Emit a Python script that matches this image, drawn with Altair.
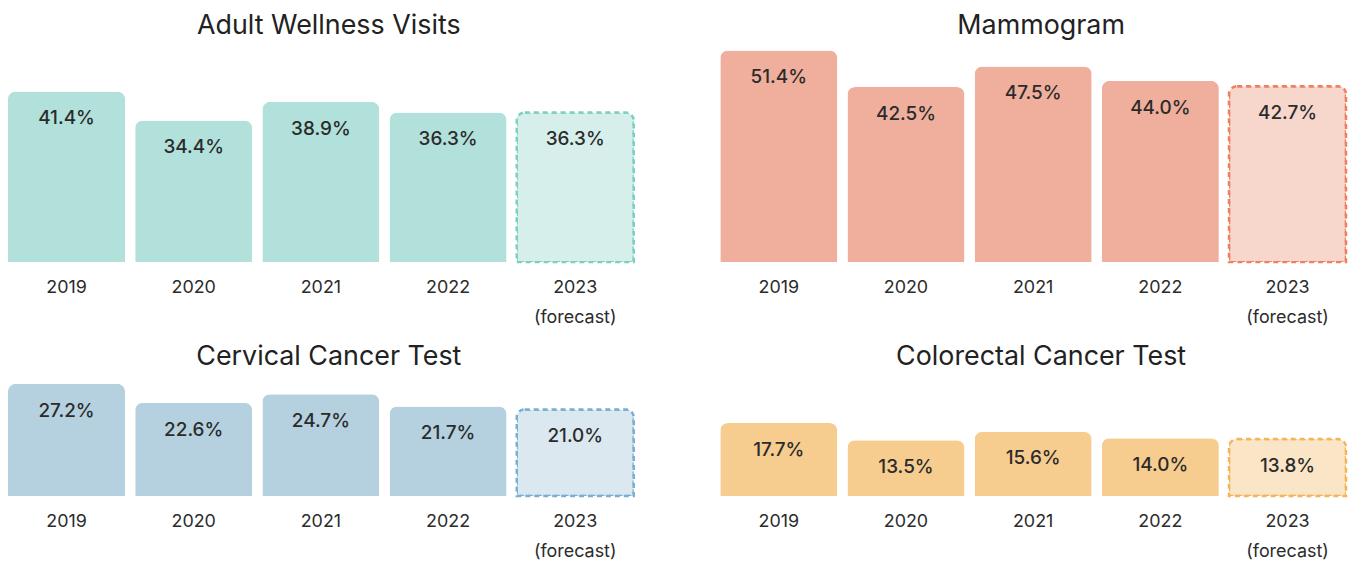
import altair as alt
import pandas as pd

years = ["2019", "2020", "2021", "2022", "2023 (forecast)"]

wellness = [41.4, 34.4, 38.9, 36.3, 36.3]
mammogram = [51.4, 42.5, 47.5, 44.0, 42.7]
cervical = [27.2, 22.6, 24.7, 21.7, 21.0]
colorectal = [17.7, 13.5, 15.6, 14.0, 13.8]

titles = ["Adult Wellness Visits", "Mammogram", "Cervical Cancer Test", "Colorectal Cancer Test"]
fills = ["#b1e1da", "#f0af9d", "#b5d1e0", "#f6cd8f"]
fc_fills = ["#d7efeb", "#f7d6cc", "#dbe8f0", "#fae5c6"]
fc_strokes = ["#7ccfc1", "#ee7f5f", "#7aaed2", "#f4b557"]

FONT = "Inter"
W = 629
K = 4.14  # px per percentage point


def panel(title, values, fill, fc_fill, fc_stroke, height, dom_max, title_offset):
    df = pd.DataFrame({
        "year": years,
        "value": values,
        "forecast": [False, False, False, False, True],
    })
    base = alt.Chart(df).encode(
        x=alt.X("year:N", sort=years,
                scale=alt.Scale(paddingInner=0.08, paddingOuter=0),
                axis=alt.Axis(title=None, labelAngle=0, ticks=False, domain=False,
                              labelFont=FONT, labelFontSize=18, labelColor="#2b2b2b",
                              labelPadding=17, labelLineHeight=30,
                              labelExpr="split(datum.label, ' ')")),
        y=alt.Y("value:Q", scale=alt.Scale(domain=[0, dom_max], nice=False, zero=True),
                axis=None),
    )
    bars = base.mark_bar(cornerRadiusTopLeft=8, cornerRadiusTopRight=8, color=fill).transform_filter(
        "!datum.forecast")
    fc = base.mark_bar(cornerRadiusTopLeft=8, cornerRadiusTopRight=8, fill=fc_fill,
                       stroke=fc_stroke, strokeWidth=2.5, strokeDash=[5, 4]).transform_filter(
        "datum.forecast")
    txt = base.mark_text(baseline="middle", dy=27, font=FONT, fontSize=19, fontWeight=500,
                         color="#2b2b2b").encode(text="lbl:N").transform_calculate(
        lbl="format(datum.value, '.1f') + '%'")
    return alt.layer(bars, fc, txt).properties(
        width=W, height=height,
        title=alt.TitleParams(title, font=FONT, fontSize=27, fontWeight=400,
                              color="#222222", anchor="middle", offset=title_offset, dx=8),
    )


H1 = 215
H2 = 119
top = alt.hconcat(
    panel(titles[0], wellness, fills[0], fc_fills[0], fc_strokes[0], H1, H1 / K, 8),
    panel(titles[1], mammogram, fills[1], fc_fills[1], fc_strokes[1], H1, H1 / K, 8),
    spacing=85,
)
bottom = alt.hconcat(
    panel(titles[2], cervical, fills[2], fc_fills[2], fc_strokes[2], H2, H2 / K, 7),
    panel(titles[3], colorectal, fills[3], fc_fills[3], fc_strokes[3], H2, H2 / K, 7),
    spacing=85,
)

chart = alt.vconcat(top, bottom, spacing=16).properties(
    padding={"top": 3, "left": 0, "right": 0, "bottom": 0},
    background="white",
).configure_view(stroke="transparent", strokeWidth=0)

chart.save("out.html", embed_options={"renderer": "svg", "actions": False})
